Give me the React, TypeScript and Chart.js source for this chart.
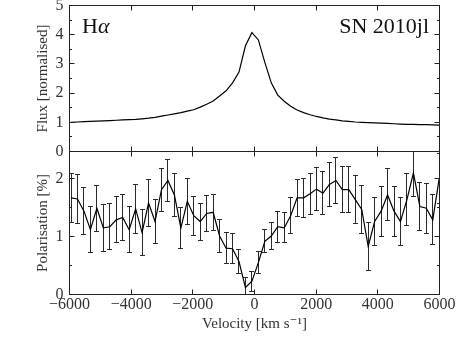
import React, { useEffect, useRef } from 'react';
import { Chart, registerables } from 'chart.js';

Chart.register(...registerables);

// ---------- data ----------
const velocities = [
  -5950, -5740, -5531, -5322, -5112, -4902, -4693, -4484, -4274, -4064,
  -3855, -3646, -3436, -3226, -3017, -2808, -2598, -2388, -2179, -1970,
  -1760, -1550, -1341, -1132, -922, -712, -503, -294, -84, 126,
  335, 544, 754, 964, 1173, 1382, 1592, 1802, 2011, 2220,
  2430, 2640, 2849, 3058, 3268, 3478, 3687, 3896, 4106, 4316,
  4525, 4734, 4944, 5154, 5363, 5572, 5782, 5992,
];

const fluxValues = [
  1.0, 1.01, 1.02, 1.03, 1.04, 1.05, 1.06, 1.07, 1.08, 1.09,
  1.1, 1.12, 1.14, 1.17, 1.21, 1.25, 1.29, 1.33, 1.38, 1.43,
  1.52, 1.62, 1.73, 1.9, 2.08, 2.35, 2.72, 3.62, 4.07, 3.82,
  3.05, 2.35, 1.93, 1.72, 1.55, 1.42, 1.33, 1.26, 1.2, 1.15,
  1.11, 1.08, 1.05, 1.03, 1.01, 1.0, 0.99, 0.98, 0.97, 0.96,
  0.95, 0.94, 0.93, 0.93, 0.92, 0.92, 0.91, 0.9,
];

const polValues = [
  1.67, 1.65, 1.44, 1.12, 1.49, 1.15, 1.17, 1.29, 1.33, 1.12,
  1.48, 1.07, 1.58, 1.26, 1.81, 1.97, 1.72, 1.15, 1.61, 1.36,
  1.26, 1.4, 1.42, 1.01, 0.8, 0.79, 0.57, 0.12, 0.23, 0.55,
  0.92, 1.01, 1.17, 1.15, 1.36, 1.67, 1.67, 1.74, 1.82, 1.75,
  1.9, 1.97, 1.81, 1.81, 1.64, 1.47, 0.83, 1.26, 1.44, 1.72,
  1.44, 1.26, 1.64, 2.1, 1.52, 1.49, 1.29, 2.01,
];

const polErrors = [
  0.42, 0.42, 0.4, 0.4, 0.4, 0.4, 0.4, 0.4, 0.4, 0.4,
  0.42, 0.4, 0.4, 0.38, 0.37, 0.37, 0.37, 0.36, 0.4, 0.34,
  0.32, 0.31, 0.31, 0.28, 0.27, 0.26, 0.2, 0.17, 0.17, 0.19,
  0.2, 0.24, 0.27, 0.26, 0.31, 0.32, 0.34, 0.35, 0.37, 0.37,
  0.38, 0.39, 0.4, 0.4, 0.42, 0.42, 0.41, 0.41, 0.43, 0.45,
  0.43, 0.42, 0.45, 0.41, 0.42, 0.43, 0.43, 0.43,
];

const xTicks = [-6000, -4000, -2000, 0, 2000, 4000, 6000];
const fluxTicks = [0, 1, 2, 3, 4, 5];
const fluxMinorTicks = [0.5, 1.5, 2.5, 3.5, 4.5];
const polTicks = [0, 1, 2];
const polMinorTicks = [0.5, 1.5];

const lineLabel = 'H';
const lineLabelGreek = 'α';
const objectLabel = 'SN 2010jl';
const fluxTitle = 'Flux [normalised]';
const polTitle = 'Polarisation [%]';
const velTitle = 'Velocity [km s⁻¹]';

// ---------- styling ----------
const FONT = '"Liberation Serif", "DejaVu Serif", serif';
const TEXT = '#333';

const fmtTick = (v: number) => (v < 0 ? '\u2212' + Math.abs(v) : String(v));

const framePlugin = {
  id: 'frame',
  afterDatasetsDraw(chart: any, _args: any, opts: any) {
    const { ctx, chartArea: a, scales } = chart;
    const xs = scales.x;
    const ys = scales.y;
    ctx.save();
    ctx.strokeStyle = '#222';
    ctx.lineWidth = 1;
    ctx.beginPath();
    const snap = (p: number) => Math.floor(p) + 0.5;
    (opts.xMajor || []).forEach((v: number) => {
      const px = snap(xs.getPixelForValue(v));
      ctx.moveTo(px, a.top);
      ctx.lineTo(px, a.top + 5);
      ctx.moveTo(px, a.bottom);
      ctx.lineTo(px, a.bottom - 5);
    });
    (opts.yMajor || []).forEach((v: number) => {
      const py = snap(ys.getPixelForValue(v));
      ctx.moveTo(a.left, py);
      ctx.lineTo(a.left + 5, py);
      ctx.moveTo(a.right, py);
      ctx.lineTo(a.right - 5, py);
    });
    (opts.yMinor || []).forEach((v: number) => {
      const py = snap(ys.getPixelForValue(v));
      ctx.moveTo(a.left, py);
      ctx.lineTo(a.left + 2.5, py);
      ctx.moveTo(a.right, py);
      ctx.lineTo(a.right - 2.5, py);
    });
    ctx.stroke();
    ctx.strokeRect(a.left, a.top, a.right - a.left, a.bottom - a.top);
    ctx.restore();
  },
};

const errorBarPlugin = {
  id: 'errorBars',
  beforeDatasetsDraw(chart: any, _args: any, opts: any) {
    if (!opts || !opts.values) return;
    const { ctx, chartArea: a, scales } = chart;
    const xs = scales.x;
    const ys = scales.y;
    ctx.save();
    ctx.beginPath();
    ctx.rect(a.left, a.top, a.right - a.left, a.bottom - a.top);
    ctx.clip();
    ctx.strokeStyle = '#2a2a2a';
    ctx.lineWidth = 1;
    ctx.beginPath();
    opts.x.forEach((v: number, i: number) => {
      const px = Math.floor(xs.getPixelForValue(v)) + 0.5;
      const yt = Math.floor(ys.getPixelForValue(opts.values[i] + opts.errors[i])) + 0.5;
      const yb = Math.floor(ys.getPixelForValue(opts.values[i] - opts.errors[i])) + 0.5;
      ctx.moveTo(px, yt);
      ctx.lineTo(px, yb);
      ctx.moveTo(px - 2.5, yt);
      ctx.lineTo(px + 2.5, yt);
      ctx.moveTo(px - 2.5, yb);
      ctx.lineTo(px + 2.5, yb);
    });
    ctx.stroke();
    ctx.restore();
  },
};

const panelLabelPlugin = {
  id: 'panelLabels',
  afterDraw(chart: any, _args: any, opts: any) {
    if (!opts || !opts.right) return;
    const { ctx, chartArea: a } = chart;
    ctx.save();
    ctx.fillStyle = '#111';
    ctx.textBaseline = 'alphabetic';
    ctx.font = `22px ${FONT}`;
    ctx.textAlign = 'left';
    const bx = a.left + 12.5;
    const by = a.top + 27.5;
    ctx.fillText(opts.left, bx, by);
    const w = ctx.measureText(opts.left).width;
    ctx.font = `italic 22px ${FONT}`;
    ctx.fillText(opts.leftGreek, bx + w, by);
    ctx.font = `22px ${FONT}`;
    ctx.textAlign = 'right';
    ctx.fillText(opts.right, a.right - 10.5, by);
    ctx.restore();
  },
};

const fixY = (s: any) => {
  s.width = 69.5;
  s.paddingTop = 0;
  s.paddingBottom = 0;
};

const tickFont = { family: FONT, size: 16 };
const titleFont = { family: FONT, size: 15 };

export default function App() {
  const topRef = useRef<HTMLCanvasElement>(null);
  const botRef = useRef<HTMLCanvasElement>(null);

  useEffect(() => {
    if (!topRef.current || !botRef.current) return;

    const top = new Chart(topRef.current, {
      type: 'line',
      data: {
        datasets: [
          {
            data: velocities.map((v, i) => ({ x: v, y: fluxValues[i] })),
            borderColor: '#000',
            borderWidth: 1.2,
            pointRadius: 0,
            tension: 0,
            fill: false,
          },
        ],
      },
      options: {
        animation: false,
        responsive: false,
        devicePixelRatio: 1,
        layout: { padding: { top: 5.5, left: 0, right: 23.5, bottom: 196.5 } },
        plugins: {
          legend: { display: false },
          tooltip: { enabled: false },
          frame: { xMajor: xTicks, yMajor: fluxTicks, yMinor: fluxMinorTicks },
          panelLabels: { left: lineLabel, leftGreek: lineLabelGreek, right: objectLabel },
        } as any,
        scales: {
          x: { type: 'linear', min: -6000, max: 6000, display: false },
          y: {
            type: 'linear',
            min: 0,
            max: 5,
            afterFit: fixY,
            afterBuildTicks: (s: any) => {
              s.ticks = fluxTicks.map((v) => ({ value: v }));
            },
            grid: { display: false, drawTicks: false },
            border: { display: false },
            ticks: { padding: 6, color: TEXT, font: tickFont },
            title: {
              display: true,
              text: fluxTitle,
              color: TEXT,
              font: titleFont,
              padding: { top: 34, bottom: 0 },
            },
          },
        },
      } as any,
      plugins: [framePlugin, panelLabelPlugin],
    });

    const bot = new Chart(botRef.current, {
      type: 'line',
      data: {
        datasets: [
          {
            data: velocities.map((v, i) => ({ x: v, y: polValues[i] })),
            borderColor: '#000',
            borderWidth: 1.2,
            pointRadius: 0,
            tension: 0,
            fill: false,
          },
        ],
      },
      options: {
        animation: false,
        responsive: false,
        devicePixelRatio: 1,
        layout: { padding: { top: 151.5, left: 0, right: 23.5, bottom: 0 } },
        plugins: {
          legend: { display: false },
          tooltip: { enabled: false },
          frame: { xMajor: xTicks, yMajor: polTicks, yMinor: polMinorTicks },
          errorBars: { x: velocities, values: polValues, errors: polErrors },
        } as any,
        scales: {
          x: {
            type: 'linear',
            min: -6000,
            max: 6000,
            afterFit: (s: any) => {
              s.height = 53.5;
              s.paddingLeft = 0;
              s.paddingRight = 0;
            },
            afterBuildTicks: (s: any) => {
              s.ticks = xTicks.map((v) => ({ value: v }));
            },
            grid: { display: false, drawTicks: false },
            border: { display: false },
            ticks: {
              padding: 1,
              color: TEXT,
              font: tickFont,
              maxRotation: 0,
              autoSkip: false,
              callback: (v: any) => fmtTick(Number(v)),
            },
            title: {
              display: true,
              text: velTitle,
              color: TEXT,
              font: titleFont,
              padding: { top: 0, bottom: 15 },
            },
          },
          y: {
            type: 'linear',
            min: 0,
            max: 2.47,
            afterFit: fixY,
            afterBuildTicks: (s: any) => {
              s.ticks = polTicks.map((v) => ({ value: v }));
            },
            grid: { display: false, drawTicks: false },
            border: { display: false },
            ticks: { padding: 6, color: TEXT, font: tickFont },
            title: {
              display: true,
              text: polTitle,
              color: TEXT,
              font: titleFont,
              padding: { top: 34, bottom: 0 },
            },
          },
        },
      } as any,
      plugins: [errorBarPlugin, framePlugin],
    });

    return () => {
      top.destroy();
      bot.destroy();
    };
  }, []);

  const canvasStyle: React.CSSProperties = {
    position: 'absolute',
    left: 0,
    top: 0,
    width: 463,
    height: 348,
  };

  return (
    <div
      style={{
        position: 'absolute',
        left: 0,
        top: 0,
        width: 463,
        height: 348,
        background: '#fff',
        overflow: 'hidden',
      }}
    >
      <canvas ref={topRef} width={463} height={348} style={canvasStyle} />
      <canvas ref={botRef} width={463} height={348} style={canvasStyle} />
    </div>
  );
}
